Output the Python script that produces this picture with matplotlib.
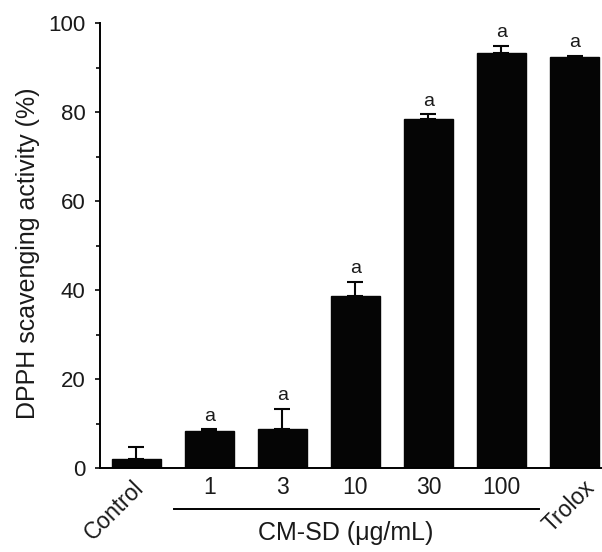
import numpy as np
import matplotlib.pyplot as plt
from matplotlib.ticker import MultipleLocator
from matplotlib.transforms import ScaledTranslation

plt.rcParams['font.family'] = ['Liberation Sans', 'DejaVu Sans']
plt.rcParams['text.color'] = '#1a1a1a'
plt.rcParams['xtick.color'] = '#1a1a1a'
plt.rcParams['ytick.color'] = '#1a1a1a'
plt.rcParams['axes.labelcolor'] = '#1a1a1a'

# data
groups = ['Control', '1', '3', '10', '30', '100', 'Trolox']
activity = [2.0, 8.4, 8.8, 38.6, 78.4, 93.4, 92.3]
sem = [2.7, 0.3, 4.5, 3.3, 1.1, 1.5, 0.4]
letters = ['', 'a', 'a', 'a', 'a', 'a', 'a']

fig = plt.figure(figsize=(6.02, 5.52), dpi=100)
ax = fig.add_axes([0.166, 0.152, 0.832, 0.806])

x = np.arange(len(groups))
ax.bar(x, activity, width=0.68, color='#050505', edgecolor='#050505',
       yerr=[np.zeros(len(sem)), sem], capsize=6,
       error_kw=dict(ecolor='#050505', elinewidth=1.5, capthick=1.5))

# significance letters above the error bars
for xi, v, e, s in zip(x, activity, sem, letters):
    if s:
        ax.text(xi, v + e + 1.9, s, ha='center', va='baseline', fontsize=14)

ax.set_xlim(-0.5, 6.36)
ax.set_ylim(0, 100)
ax.yaxis.set_major_locator(MultipleLocator(20))
ax.yaxis.set_minor_locator(MultipleLocator(10))
ax.tick_params(axis='y', which='major', length=3.8, width=1.3, labelsize=16, pad=6.5)
ax.tick_params(axis='y', which='minor', length=3.2, width=1.3)
ax.tick_params(axis='x', length=0, pad=5.5)
ax.set_ylabel('DPPH scavenging activity (%)', fontsize=18)
ax.yaxis.set_label_coords(-0.12, 0.482)

ax.set_xticks(x)
ax.set_xticklabels(groups, fontsize=16.5)
shifts = {'Control': -4, 'Trolox': 9}  # pixel nudges of the slanted labels
for lbl in ax.get_xticklabels():
    name = lbl.get_text()
    if name in shifts:
        lbl.set_rotation(45)
        lbl.set_ha('right')
        lbl.set_va('top')
        lbl.set_rotation_mode('anchor')
        lbl.set_transform(lbl.get_transform() +
                          ScaledTranslation(shifts[name] / 100, 0, fig.dpi_scale_trans))

for side in ('top', 'right'):
    ax.spines[side].set_visible(False)
for side in ('left', 'bottom'):
    ax.spines[side].set_linewidth(1.4)

# bracket line and group label for the CM-SD doses
ax.plot([0.52, 5.52], [-0.093, -0.093], color='black', lw=1.4,
        transform=ax.get_xaxis_transform(), clip_on=False)
ax.text(2.87, -0.162, 'CM-SD (\u03bcg/mL)', ha='center', va='baseline', fontsize=18,
        transform=ax.get_xaxis_transform())

fig.savefig('out.png', dpi=100)
